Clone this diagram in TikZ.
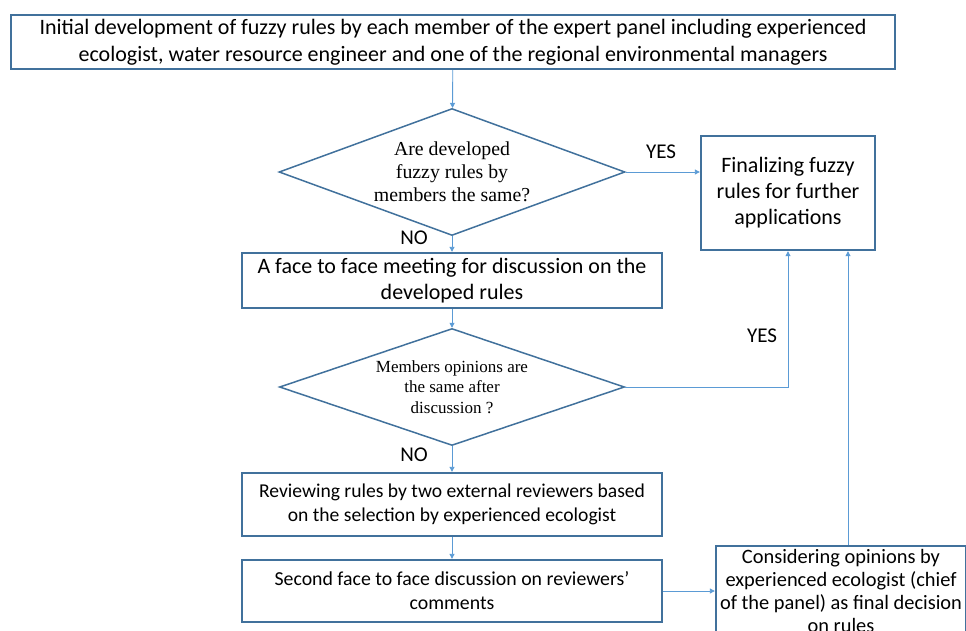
\documentclass[tikz,border=0pt]{standalone}
\usepackage{fontspec}
\setmainfont{Carlito}
\newfontfamily\timesfont{Liberation Serif}
\usetikzlibrary{shapes.geometric,arrows.meta}

\definecolor{boxblue}{RGB}{65,113,156}
\definecolor{linkblue}{RGB}{91,155,213}

\begin{document}
\begin{tikzpicture}
		[x=1pt,y=-1pt,
		 box/.style= {rectangle,draw=boxblue,line width=2.4pt,inner sep=0pt,align=center,font=\fontsize{22}{26}\selectfont},
		 dec/.style= {diamond,draw=boxblue,line width=1.5pt,inner sep=0pt,align=center,shape aspect=2.7},
		 link/.style= {draw=linkblue,line width=0.9pt,-{Triangle[length=5pt,width=5pt]}},
		 lab/.style= {font=\fontsize{21}{25}\selectfont}]

		\useasboundingbox (0,0) rectangle (966,630);
		\clip (0,0) rectangle (966,630);

		\node[box,minimum width=884pt,minimum height=54pt,font=\fontsize{22}{27}\selectfont] (init) at (453,42)
			{Initial development of fuzzy rules by each member of the expert panel including experienced\\ecologist, water resource engineer and one of the regional environmental managers};

		\node[dec,minimum width=346pt,minimum height=127pt,font=\timesfont\fontsize{19.8}{23}\selectfont] (same1) at (452,172)
			{Are developed\\fuzzy rules by\\members the same?};

		\node[box,minimum width=174pt,minimum height=114pt] (final) at (788,193)
			{Finalizing fuzzy\\rules for further\\applications};

		\node[box,minimum width=420pt,minimum height=55pt,font=\fontsize{22}{25.5}\selectfont] (meet) at (452,280.5)
			{A face to face meeting for discussion on the\\developed rules};

		\node[dec,minimum width=345pt,minimum height=117pt,font=\timesfont\fontsize{17}{20.5}\selectfont] (same2) at (452,387)
			{Members opinions are\\the same after\\discussion ?};

		\node[box,minimum width=420pt,minimum height=63pt,font=\fontsize{19.6}{24}\selectfont] (review) at (452,504.5)
			{Reviewing rules by two external reviewers based\\on the selection by experienced ecologist};

		\node[box,minimum width=420pt,minimum height=62pt,font=\fontsize{19.8}{24}\selectfont] (second) at (452,591)
			{Second face to face discussion on reviewers’\\comments};

		\node[box,minimum width=250pt,minimum height=90pt,font=\fontsize{20.4}{23}\selectfont] (chief) at (841,591)
			{Considering opinions by\\experienced ecologist (chief\\of the panel) as final decision\\on rules};

		\node[lab] (yes1) at (661,152) {YES};
		\node[lab] (no1) at (414,238) {NO};
		\node[lab] (yes2) at (762,336) {YES};
		\node[lab] (no2) at (414,455) {NO};

		\draw[link] (init) -- (same1);
		\draw[link] (same1.east) -- (same1.east -| final.west);
		\draw[link] (same1) -- (meet);
		\draw[link] (meet) -- (same2);
		\draw[link] (same2.east) -| (final.south);
		\draw[link] (same2) -- (review);
		\draw[link] (review) -- (second);
		\draw[link] (second.east) -- (second.east -| chief.west);
		\draw[link] ([xshift=7pt]chief.north) -- ([xshift=7pt]chief.north |- final.south);

	\end{tikzpicture}
\end{document}
